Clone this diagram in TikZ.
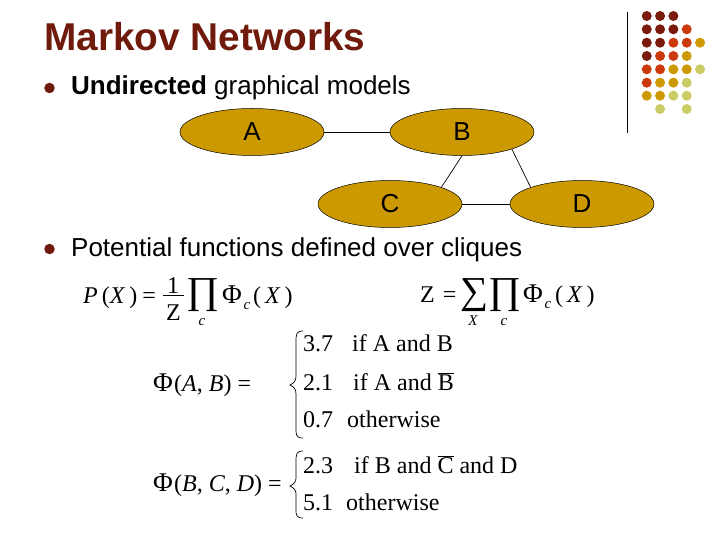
\documentclass[tikz,border=0pt]{standalone}
\usepackage{fontspec}
\setmainfont{Liberation Serif}
\newfontfamily\arialf{Liberation Sans}
\usetikzlibrary{shapes.geometric}
\definecolor{dotD}{HTML}{7A1A0A}
\definecolor{dotR}{HTML}{CC3A0C}
\definecolor{dotG}{HTML}{CC9900}
\definecolor{dotL}{HTML}{CCCC66}
\definecolor{titlecol}{HTML}{701A0C}
\tikzset{
 ell/.style={ellipse,draw=black,line width=0.5pt,fill=dotG,minimum width=144pt,minimum height=47pt,inner sep=0pt},
 edge/.style={draw=black,line width=0.7pt},
 titletext/.style={anchor=base west,inner sep=0pt,text=titlecol,font=\arialf\bfseries\fontsize{38.8}{39}\selectfont},
 bodytext/.style={anchor=base west,inner sep=0pt,text=black,font=\arialf\fontsize{26}{26}\selectfont},
 mth/.style={anchor=base west,inner sep=0pt,text=black,font=\fontsize{24}{24}\selectfont},
 phi/.style={anchor=base west,inner sep=0pt,text=black,font=\fontsize{27}{27}\selectfont},
 sm/.style={anchor=base,inner sep=0pt,text=black,font=\itshape\fontsize{15}{15}\selectfont},
 big/.style={anchor=center,inner sep=0pt,font=\fontsize{30}{30}\selectfont},
 brace/.style={draw=black,line width=0.7pt,fill=none},
 blt/.style={circle,fill=titlecol,draw=none,minimum size=10.5pt,inner sep=0pt},
 dot/.style={circle,minimum size=10pt,inner sep=0pt,draw=none}
}
\newcommand{\bigprod}{\resizebox*{33pt}{33pt}{∏}}
\newcommand{\bigsum}{\resizebox*{28pt}{33pt}{∑}}
\newcommand{\ovl}[1]{$\overline{\hbox{#1}}$}
\begin{document}
\begin{tikzpicture}[x=1pt,y=-1pt]
\useasboundingbox (0,0) rectangle (720,540);
% decoration
\foreach \r/\row in {16/{1/D,2/D,3/D},29.3/{1/D,2/D,3/D,4/R},42.7/{1/D,2/D,3/R,4/R,5/G},56/{1/D,2/R,3/R,4/G},69.3/{1/R,2/R,3/G,4/G,5/L},82.7/{1/R,2/G,3/G,4/L},95.7/{1/G,2/G,3/L,4/L},109/{2/L,4/L}}{
  \foreach \c/\k in \row {
    \node[dot,fill=dot\k] (d\c-\r) at ({633.4+13.33*\c},\r) {};
  }
}
\draw[black,line width=1pt] (627.5,12) -- (627.5,133);
% title
\node[titletext] (title) at (44,51) {Markov Networks};
\node[blt] (b1) at (49.5,88) {};
\node[bodytext] (t1) at (71,95) {\textbf{Undirected} graphical models};
\node[blt] (b2) at (49.5,249) {};
\node[bodytext] (t2) at (71,256) {Potential functions defined over cliques};
% graph
\node[ell] (A) at (252,132) {};
\node[ell] (B) at (462,132) {};
\node[ell] (C) at (390,204) {};
\node[ell] (D) at (582,204) {};
\node[bodytext,anchor=center] (la) at (252,132) {A};
\node[bodytext,anchor=center] (lb) at (462,132) {B};
\node[bodytext,anchor=center] (lc) at (390,204) {C};
\node[bodytext,anchor=center] (ld) at (582,204) {D};
\draw[edge] (A.east) -- (B.west);
\draw[edge] (C.east) -- (D.west);
\draw[edge] (B.south) -- (C.18);
\draw[edge] (B.-19) -- (D.162);
% P(X)
\node[mth] (px) at (83,303) {\textit{P}\,(\textit{X}\,)\hspace{5pt}=};
\node[mth] (one) at (167,293) {1};
\coordinate (fl) at (163,295.5);
\coordinate (fr) at (184,295.5);
\draw[black,line width=0.8pt] (fl) -- (fr);
\node[mth] (zz) at (166,320) {Z};
\node[big] (pr1) at (202.5,295.5) {\bigprod};
\node[sm] (c1) at (202,325) {c};
\node[phi] (ph1) at (222,303) {Φ};
\node[sm] (c2) at (247,309) {c};
\node[mth] (xx1) at (253,303) {(\,\textit{X}\,)};
% Z
\node[mth] (z2) at (420,302) {Z\,\,=};
\node[big] (s1) at (474,295.5) {\bigsum};
\node[big] (pr2) at (504.5,295.5) {\bigprod};
\node[sm] (x2) at (473,325) {X};
\node[sm] (c3) at (504,325) {c};
\node[phi] (ph2) at (523,302) {Φ};
\node[sm] (c4) at (548,308) {c};
\node[mth] (xx2) at (555,302) {(\,\textit{X}\,)};
% Phi AB
\node[phi] (f1) at (153,391) {Φ};
\node[mth] (f1b) at (174,391) {(\textit{A}, \textit{B}) =};
\draw[brace] (303,331) .. controls (296,331) and (296,335) .. (296,342) -- (296,376) .. controls (296,381) and (294,383) .. (290,385)
  .. controls (294,387) and (296,389) .. (296,394) -- (296,428) .. controls (296,435) and (296,438) .. (303,438);
\node[mth] (r1a) at (303,351) {3.7};
\node[mth] (r1b) at (352,351) {if A and B};
\node[mth] (r2a) at (303,390) {2.1};
\node[mth] (r2b) at (353,390) {if A and \ovl{B}};
\node[mth] (r3a) at (303,427) {0.7};
\node[mth] (r3b) at (347,427) {otherwise};
% Phi BCD
\node[phi] (f2) at (153,491) {Φ};
\node[mth] (f2b) at (174,491) {(\textit{B}, \textit{C}, \textit{D}) =};
\draw[brace] (303,451) .. controls (296,451) and (296,455) .. (296,462) -- (296,478) .. controls (296,482) and (294,484) .. (290,486)
  .. controls (294,488) and (296,490) .. (296,494) -- (296,509) .. controls (296,515) and (296,518) .. (303,518);
\node[mth] (r4a) at (303,473) {2.3};
\node[mth] (r4b) at (354,473) {if B and \ovl{C} and D};
\node[mth] (r5a) at (303,510) {5.1};
\node[mth] (r5b) at (346,510) {otherwise};
\end{tikzpicture}
\end{document}
